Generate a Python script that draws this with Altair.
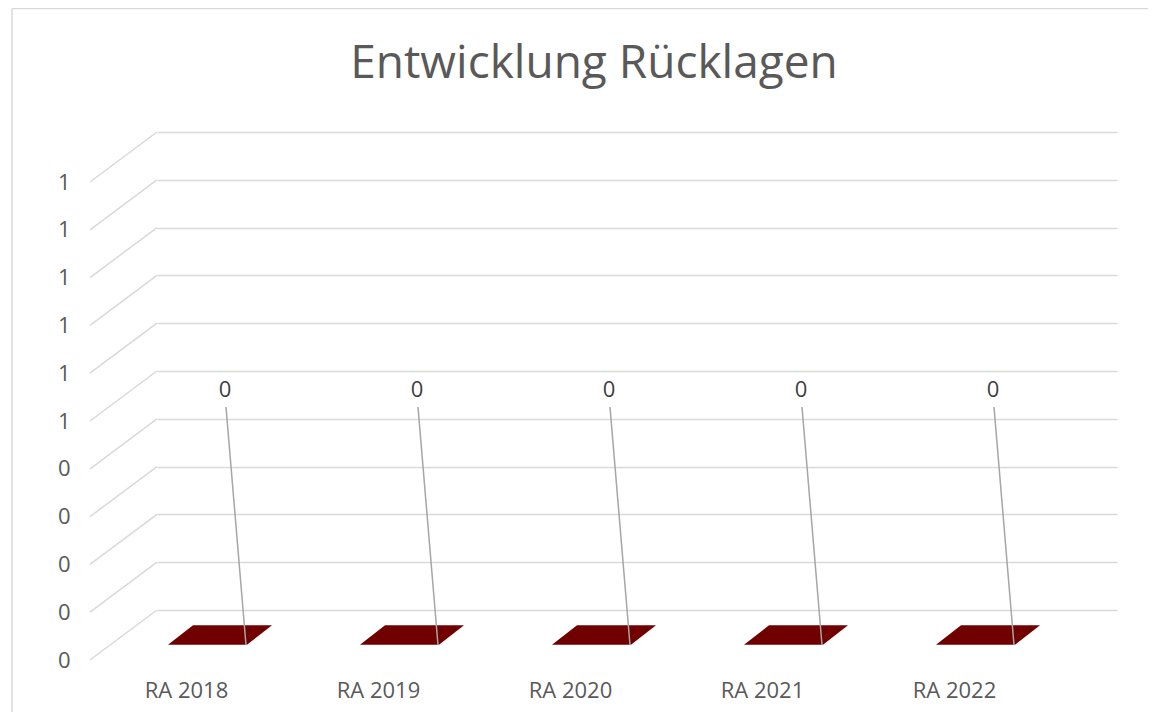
import json
import altair as alt
import pandas as pd

# ---- data ----
categories = ["RA 2018", "RA 2019", "RA 2020", "RA 2021", "RA 2022"]
values = [0, 0, 0, 0, 0]
y_ticks = [0, 0.1, 0.2, 0.3, 0.4, 0.5, 0.6, 0.7, 0.8, 0.9, 1.0]
title_text = "Entwicklung Rücklagen"

df = pd.DataFrame({"idx": list(range(len(categories))), "cat": categories, "value": values})
ticks_df = pd.DataFrame({"v": y_ticks})

FONT = "Open Sans"
GRID = "#d9d9d9"
LABEL = "#595959"

xs = alt.Scale(domain=[-0.5, len(categories) - 0.5], nice=False, zero=False)
ys = alt.Scale(domain=[0, 1], nice=False, zero=True)

label_expr = json.dumps(categories) + "[datum.value]"
xaxis = alt.Axis(values=list(range(len(categories))), labelExpr=label_expr, title=None,
                 grid=False, ticks=False, tickSize=0, domain=False, labelOffset=-67,
                 offset=70, labelPadding=10, labelBaseline="middle", labelFontSize=22,
                 labelColor=LABEL, labelFont=FONT, labelFlush=False, labelOverlap=False,
                 labelBound=False)
yaxis = alt.Axis(values=y_ticks, format=".0f", title=None, grid=True, gridColor=GRID,
                 gridWidth=1.5, ticks=False, tickSize=0, domain=False, labelOffset=50,
                 offset=80, labelPadding=7, labelFontSize=22, labelColor=LABEL,
                 labelFont=FONT, labelFlush=False, labelOverlap=False, labelBound=False)

X = alt.X("idx:Q", scale=xs, axis=xaxis)

# front diagonals of the side wall
diag = alt.Chart(ticks_df).mark_rule(color=GRID, strokeWidth=1.5, y2Offset=50).encode(
    y=alt.Y("v:Q", scale=ys, axis=yaxis),
    y2=alt.Y2("v"),
    x=alt.value(0),
    x2=alt.value(-67),
)

# zero-height 3D columns (floor parallelograms)
para = "M -1 0.188 L 0.519 0.188 L 1 -0.188 L -0.519 -0.188 Z"
bars = alt.Chart(df).mark_point(shape=para, filled=True, size=104 * 104, color="#700000",
                                opacity=1, strokeWidth=0, xOffset=-33, yOffset=25).encode(
    x=X,
    y=alt.Y("value:Q", scale=ys, axis=yaxis),
)

leaders = alt.Chart(df).mark_rule(color="#a6a6a6", strokeWidth=1.5, xOffset=-27, x2Offset=-7,
                                  yOffset=-203, y2Offset=35).encode(
    x=X,
    x2=alt.X2("idx"),
    y=alt.Y("value:Q", scale=ys, axis=yaxis),
    y2=alt.Y2("value"),
)

labels = alt.Chart(df).mark_text(font=FONT, fontSize=22, color="#404040", dx=-28, dy=-220,
                                 baseline="middle", align="center").encode(
    x=X,
    y=alt.Y("value:Q", scale=ys, axis=yaxis),
    text=alt.Text("value:Q", format=".0f"),
)

one = pd.DataFrame({"t": [title_text]})
title = alt.Chart(one).mark_text(font=FONT, fontSize=46, color=LABEL, align="center",
                                 baseline="middle").encode(
    x=alt.value(437), y=alt.value(-68), text="t:N")

border_l = alt.Chart(one).mark_rule(color=GRID, strokeWidth=1.5).encode(
    x=alt.value(-145), y=alt.value(-123.5), y2=alt.value(600))
border_t = alt.Chart(one).mark_rule(color=GRID, strokeWidth=1.5).encode(
    x=alt.value(-145), x2=alt.value(1010), y=alt.value(-123.5))

chart = alt.layer(diag, bars, leaders, labels, title, border_l, border_t).properties(
    width=960, height=478,
    autosize=alt.AutoSizeParams(type="none"),
    padding={"left": 149, "top": 124, "right": 31, "bottom": 102},
    background="white",
).configure_view(stroke=None)

chart.save("out.html", embed_options={"renderer": "svg", "actions": False})
